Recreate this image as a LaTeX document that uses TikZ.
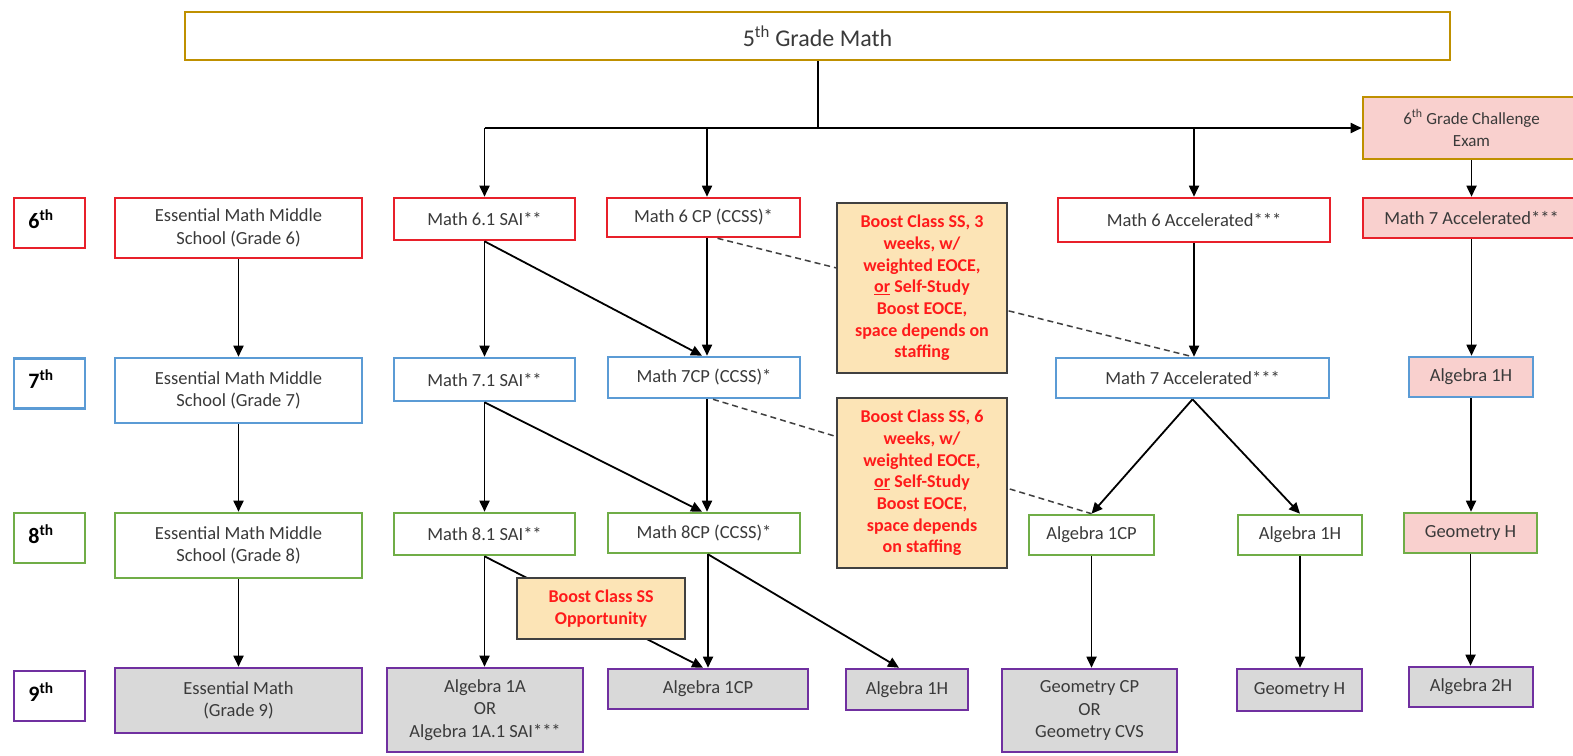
\documentclass[tikz,border=0pt]{standalone}
\usepackage{fontspec}
\setmainfont{Carlito}
\usetikzlibrary{arrows.meta,calc}
\definecolor{cred}{HTML}{E8202A}
\definecolor{cblue}{HTML}{5B9BD5}
\definecolor{cgreen}{HTML}{70AD47}
\definecolor{cpurple}{HTML}{7030A0}
\definecolor{cgold}{HTML}{BF9000}
\definecolor{cpink}{HTML}{F9D0CE}
\definecolor{cgray}{HTML}{D9D9D9}
\definecolor{ctan}{HTML}{FCE4B6}
\definecolor{cboost}{HTML}{FF1A1A}
\definecolor{ctxt}{HTML}{3A3A3A}
\definecolor{cdark}{HTML}{404040}
\tikzset{
  sz/.style 2 args={minimum width=#1pt, minimum height=#2pt},
  box/.style={draw, line width=2.6pt, fill=white, inner sep=2pt, align=center,
    text=ctxt, font=\fontsize{18.5}{22.5}\selectfont},
  gbox/.style={box, draw=cpurple, fill=cgray},
  boostbox/.style={draw=cdark, line width=2.2pt, fill=ctan, inner sep=2pt, align=center,
    text=cboost, font=\fontsize{18}{21.7}\selectfont\bfseries},
  lbox/.style={draw, line width=2.6pt, fill=white, minimum width=71pt, minimum height=50pt},
  ltxt/.style={inner sep=0pt, text=black, font=\fontsize{22}{26}\selectfont\bfseries},
  ln/.style={line width=1.8pt, black},
  arr/.style={line width=1.8pt, black, -{Triangle[length=11pt,width=10pt]}},
  dsh/.style={line width=1.5pt, cdark, dash pattern=on 6pt off 4pt}
}
\begin{document}
\begin{tikzpicture}[x=1pt,y=-1pt]
\useasboundingbox (0,0) rectangle (1573,755);
\clip (0,0) rectangle (1573,755);
\fill[white] (0,0) rectangle (1573,755);

% top
\node[box, draw=cgold, sz={1265}{48}, font=\fontsize{24}{28}\selectfont] (top) at (817.5,36) {5\textsuperscript{th} Grade Math};
\node[box, draw=cgold, fill=cpink, sz={217}{62}, font=\fontsize{17}{22}\selectfont] (chal) at (1471.5,128) {6\textsuperscript{th} Grade Challenge\\Exam};

% grade labels
\node[lbox, draw=cred] (L6) at (49.5,223) {};
\node[ltxt] (L6t) at (41,219) {6\textsuperscript{th}};
\node[lbox, draw=cblue] (L7) at (49.5,383.5) {};
\node[ltxt] (L7t) at (41,379) {7\textsuperscript{th}};
\node[lbox, draw=cgreen] (L8) at (49.5,538) {};
\node[ltxt] (L8t) at (41,534) {8\textsuperscript{th}};
\node[lbox, draw=cpurple] (L9) at (49.5,696) {};
\node[ltxt] (L9t) at (41,692) {9\textsuperscript{th}};

% essential math column
\node[box, draw=cred, sz={247}{60}] (EM6) at (238.5,228) {Essential Math Middle\\School (Grade 6)};
\node[box, draw=cblue, sz={247}{65}] (EM7) at (238.5,390.5) {Essential Math Middle\\School (Grade 7)};
\node[box, draw=cgreen, sz={247}{65}] (EM8) at (238.5,545.5) {Essential Math Middle\\School (Grade 8)};
\node[gbox, sz={247}{65}] (EM9) at (238.5,700.5) {Essential Math\\(Grade 9)};

% SAI column
\node[box, draw=cred, sz={181}{42}] (M61) at (484.5,219) {Math 6.1 SAI**};
\node[box, draw=cblue, sz={181}{43}] (M71) at (484.5,379.5) {Math 7.1 SAI**};
\node[box, draw=cgreen, sz={181}{42}] (M81) at (484.5,534) {Math 8.1 SAI**};
\node[gbox, sz={196}{84}] (A1A) at (485,710) {Algebra 1A\\OR\\Algebra 1A.1 SAI***};

% CP column
\node[box, draw=cred, sz={193}{39}] (M6CP) at (703.5,217.5) {Math 6 CP (CCSS)*};
\node[box, draw=cblue, sz={192}{41}] (M7CP) at (704,377.5) {Math 7CP (CCSS)*};
\node[box, draw=cgreen, sz={192}{40}] (M8CP) at (704,533) {Math 8CP (CCSS)*};
\node[gbox, sz={200}{40}] (A1CP9) at (708,689) {Algebra 1CP};
\node[gbox, sz={122}{41}] (A1H9) at (907,689.5) {Algebra 1H};

% accelerated column
\node[box, draw=cred, sz={272}{44}] (M6A) at (1194,220) {Math 6 Accelerated***};
\node[box, draw=cblue, sz={273}{40}] (M7A) at (1192.5,378) {Math 7 Accelerated***};
\node[box, draw=cgreen, sz={125}{40}] (A1CP8) at (1091.5,535) {Algebra 1CP};
\node[box, draw=cgreen, sz={124}{40}] (A1H8) at (1300,535) {Algebra 1H};
\node[gbox, sz={175}{83}] (GCP) at (1089.5,710.5) {Geometry CP\\OR\\Geometry CVS};
\node[gbox, sz={125}{42}] (GH9) at (1299.5,690) {Geometry H};

% challenge column
\node[box, draw=cred, fill=cpink, sz={217}{40}] (M7AP) at (1471.5,218) {Math 7 Accelerated***};
\node[box, draw=cblue, fill=cpink, sz={124}{40}] (A1HP) at (1471,377) {Algebra 1H};
\node[box, draw=cgreen, fill=cpink, sz={133}{40}] (GHP) at (1470.5,533) {Geometry H};
\node[gbox, sz={124}{40}] (A2H) at (1471,687) {Algebra 2H};

% lines passing behind boost boxes
\draw[dsh] ($(M6CP.south)+(14,0)$) -- (M7A.north);
\draw[dsh] ($(M7CP.south)+(9,0)$) -- (A1CP8.north);
\draw[arr] (M81.south) -- ($(A1CP9.north)+(-5,0)$);

% boost boxes
\node[boostbox, sz={170}{170}] (B1) at (922,288) {Boost Class SS, 3\\weeks, w/\\weighted EOCE,\\\underline{or} Self-Study\\Boost EOCE,\\space depends on\\staffing};
\node[boostbox, sz={170}{170}] (B2) at (922,483) {Boost Class SS, 6\\weeks, w/\\weighted EOCE,\\\underline{or} Self-Study\\Boost EOCE,\\space depends\\on staffing};
\node[boostbox, sz={168}{61}] (BO) at (601,608.5) {Boost Class SS\\Opportunity};

% top connectors
\coordinate (j) at (818,128);
\draw[ln] (top.south -| j) -- (j);
\draw[arr] (M61.north |- j) -- (chal.west);
\draw[arr] (M61.north |- j) -- (M61.north);
\draw[arr] ($(M6CP.north |- j)+(3.5,0)$) -- ($(M6CP.north)+(3.5,0)$);
\draw[arr] (M6A.north |- j) -- (M6A.north);
\draw[arr] (chal.south) -- (M7AP.north);

% essential column
\draw[arr] (EM6.south) -- (EM7.north);
\draw[arr] (EM7.south) -- (EM8.north);
\draw[arr] (EM8.south) -- (EM9.north);

% SAI / CP
\draw[arr] (M61.south) -- (M71.north);
\draw[arr] (M61.south) -- ($(M7CP.north)+(-2,0)$);
\draw[arr] ($(M6CP.south)+(3.5,0)$) -- ($(M7CP.north)+(3,0)$);
\draw[arr] (M71.south) -- (M81.north);
\draw[arr] (M71.south) -- ($(M8CP.north)+(-2,0)$);
\draw[arr] ($(M7CP.south)+(3,0)$) -- ($(M8CP.north)+(3,0)$);
\draw[arr] (M81.south) -- (M81.south |- A1A.north);
\draw[arr] ($(M8CP.south)+(4,0)$) -- ($(A1CP9.north)+(0,0)$);
\draw[arr] ($(M8CP.south)+(4,0)$) -- ($(A1H9.north)+(-8,0)$);

% accelerated
\draw[arr] (M6A.south) -- (M6A.south |- M7A.north);
\draw[arr] (M7A.south) -- (A1CP8.north);
\draw[arr] (M7A.south) -- (A1H8.north);
\draw[arr] (A1CP8.south) -- (A1CP8.south |- GCP.north);
\draw[arr] (A1H8.south) -- (A1H8.south |- GH9.north);

% challenge column
\draw[arr] (M7AP.south) -- (M7AP.south |- A1HP.north);
\draw[arr] (A1HP.south) -- (A1HP.south |- GHP.north);
\draw[arr] (GHP.south) -- (GHP.south |- A2H.north);
\end{tikzpicture}
\end{document}
